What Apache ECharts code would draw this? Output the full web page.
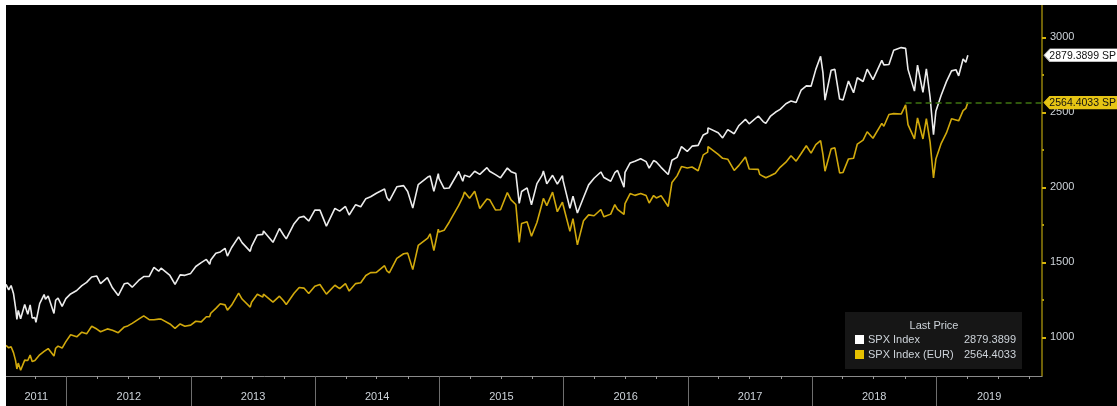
<!DOCTYPE html>
<html><head><meta charset="utf-8">
<script src="https://cdn.jsdelivr.net/npm/echarts@6/dist/echarts.min.js"></script>
<style>
html,body{margin:0;padding:0;background:#fff;width:1117px;height:406px;overflow:hidden}
#c{position:absolute;left:6px;top:5px;width:1111px;height:401px;background:#000}
</style>
</head><body><div id="c"></div>
<script>
// ---- data ----
const seriesNames = ['SPX Index', 'SPX Index (EUR)'];
const dates = [
 '2011-07-07','2011-07-15','2011-07-22','2011-07-29','2011-08-04','2011-08-08','2011-08-12','2011-08-19','2011-08-31','2011-09-09','2011-09-16','2011-09-22','2011-09-30','2011-10-03','2011-10-14','2011-10-27','2011-10-31','2011-11-08','2011-11-25','2011-11-30','2011-12-07','2011-12-19','2011-12-30',
 '2012-01-13','2012-01-31','2012-02-15','2012-02-29','2012-03-15','2012-03-30','2012-04-02','2012-04-10','2012-04-30','2012-05-15','2012-06-01','2012-06-19','2012-06-29','2012-07-12','2012-07-31','2012-08-15','2012-08-31','2012-09-14','2012-09-28','2012-10-05','2012-10-31','2012-11-15','2012-11-30','2012-12-14','2012-12-31',
 '2013-01-15','2013-01-31','2013-02-15','2013-02-25','2013-02-28','2013-03-15','2013-03-28','2013-04-11','2013-04-18','2013-04-30','2013-05-21','2013-05-31','2013-06-24','2013-06-28','2013-07-15','2013-07-31','2013-08-02','2013-08-30','2013-09-18','2013-09-30','2013-10-08','2013-10-31','2013-11-15','2013-11-29','2013-12-13','2013-12-31',
 '2014-01-15','2014-02-03','2014-02-28','2014-03-14','2014-03-31','2014-04-11','2014-04-30','2014-05-15','2014-05-30','2014-06-13','2014-06-30','2014-07-24','2014-07-31','2014-08-07','2014-08-29','2014-09-18','2014-09-30','2014-10-15','2014-10-31','2014-11-28','2014-12-05','2014-12-16','2014-12-29','2014-12-31',
 '2015-01-15','2015-01-30','2015-02-27','2015-03-11','2015-03-16','2015-03-31','2015-04-15','2015-04-30','2015-05-21','2015-05-29','2015-06-15','2015-06-30','2015-07-20','2015-07-31','2015-08-14','2015-08-24','2015-08-31','2015-09-16','2015-09-29','2015-10-15','2015-10-30','2015-11-03','2015-11-13','2015-11-30','2015-12-14','2015-12-29','2015-12-31',
 '2016-01-20','2016-01-29','2016-02-11','2016-02-29','2016-03-15','2016-03-31','2016-04-20','2016-04-29','2016-05-19','2016-05-31','2016-06-08','2016-06-27','2016-06-30','2016-07-15','2016-07-29','2016-08-15','2016-08-31','2016-09-09','2016-09-22','2016-09-30','2016-10-14','2016-11-04','2016-11-15','2016-11-30','2016-12-13','2016-12-30',
 '2017-01-13','2017-01-31','2017-02-15','2017-02-28','2017-03-01','2017-03-31','2017-04-13','2017-04-28','2017-05-17','2017-05-31','2017-06-19','2017-06-30','2017-07-27','2017-07-31','2017-08-10','2017-08-18','2017-08-31','2017-09-15','2017-09-29','2017-10-16','2017-10-31','2017-11-15','2017-11-30','2017-12-15','2017-12-29',
 '2018-01-12','2018-01-26','2018-02-02','2018-02-08','2018-02-26','2018-03-09','2018-03-23','2018-04-02','2018-04-18','2018-05-03','2018-05-14','2018-05-31','2018-06-12','2018-06-29','2018-07-25','2018-07-31','2018-08-15','2018-08-29','2018-09-20','2018-10-03','2018-10-10','2018-10-29','2018-11-07','2018-11-23','2018-12-03','2018-12-14','2018-12-24','2018-12-31',
 '2019-01-15','2019-01-31','2019-02-15','2019-02-28','2019-03-08','2019-03-21','2019-03-29','2019-04-04'
];
const spx = [
 1353,1316,1345,1292,1200,1119,1179,1123,1219,1154,1216,1129,1131,1099,1225,1285,1253,1276,1159,1247,1261,1206,1258,
 1289,1312,1344,1366,1402,1408,1419,1358,1398,1330,1278,1357,1362,1334,1379,1405,1406,1466,1441,1461,1412,1353,1416,1413,1426,
 1472,1498,1519,1487,1515,1560,1569,1593,1541,1597,1669,1631,1573,1606,1682,1686,1709,1633,1725,1682,1656,1757,1798,1806,1775,1848,
 1848,1741,1859,1841,1872,1815,1884,1870,1924,1937,1960,1988,1931,1910,2003,2011,1972,1862,2018,2068,2075,1973,2091,2059,
 1992,1995,2105,2040,2081,2068,2107,2086,2131,2107,2084,2063,2128,2104,2092,1893,1972,1996,1884,2024,2079,2109,2023,2080,2021,2078,2044,
 1859,1940,1829,1932,2016,2060,2102,2065,2040,2097,2112,2001,2099,2162,2174,2190,2171,2128,2178,2168,2133,2085,2180,2199,2271,2239,
 2274,2279,2349,2364,2396,2363,2329,2384,2357,2412,2453,2423,2475,2470,2438,2426,2472,2500,2519,2557,2575,2565,2648,2676,2674,
 2786,2873,2762,2581,2780,2786,2588,2582,2708,2630,2730,2705,2787,2718,2846,2816,2818,2914,2931,2926,2786,2641,2814,2633,2790,2600,2351,2507,
 2610,2704,2776,2784,2743,2855,2834,2879.3899
];
const spxEur = [
 946,930,937,898,846,789,828,780,848,845,882,838,845,834,883,906,904,925,875,927,941,928,971,
 1017,1003,1034,1023,1074,1055,1065,1037,1056,1047,1031,1069,1076,1093,1121,1143,1118,1117,1121,1121,1089,1060,1089,1074,1081,
 1107,1103,1137,1138,1160,1193,1224,1216,1181,1213,1294,1255,1201,1234,1287,1268,1287,1235,1274,1243,1219,1294,1332,1328,1292,1341,
 1352,1288,1347,1324,1358,1308,1358,1364,1412,1431,1432,1477,1442,1430,1526,1557,1561,1451,1612,1661,1690,1578,1720,1702,
 1713,1767,1879,1934,1969,1927,1973,1859,1922,1917,1849,1850,1965,1916,1885,1632,1759,1770,1673,1765,1890,1926,1878,1968,1837,1901,1882,
 1706,1791,1616,1777,1816,1810,1852,1803,1821,1884,1853,1819,1891,1958,1946,1959,1945,1895,1945,1929,1944,1872,2032,2076,2138,2128,
 2135,2110,2216,2234,2271,2219,2193,2187,2112,2146,2202,2122,2119,2086,2073,2063,2077,2094,2133,2167,2210,2174,2225,2277,2228,
 2284,2311,2217,2107,2256,2263,2096,2099,2189,2194,2288,2314,2370,2327,2426,2407,2485,2491,2488,2549,2418,2323,2462,2322,2458,2301,2062,2188,
 2289,2362,2457,2449,2443,2511,2526,2564.4033
];
const yTickLabels = [1000, 1500, 2000, 2500, 3000];
const yMinorTicks = [1250, 1750, 2250, 2750];
const yearLabels = ['2011','2012','2013','2014','2015','2016','2017','2018','2019'];
const dashStartDate = '2018-10-03';
const axisStart = '2011-07-07';
const axisEnd = '2019-11-08';

// ---- helpers ----
function ts(s){ const p = s.split('-').map(Number); return Date.UTC(p[0], p[1]-1, p[2]); }
const xMin = ts(axisStart), xMax = ts(axisEnd);
const yearStarts = yearLabels.slice(1).map(y => ts(y + '-01-01'));
const quarterTicks = [];
yearLabels.forEach(y => ['04-01','07-01','10-01'].forEach(md => {
  const t = ts(y + '-' + md); if (t > xMin && t < xMax) quarterTicks.push(t);
}));
const bounds = [xMin].concat(yearStarts).concat([xMax]);
const yearLabelPos = yearLabels.map((y, i) => (bounds[i] + bounds[i+1]) / 2);

const lastSpx = spx[spx.length-1], lastEur = spxEur[spxEur.length-1];
const WHITE = '#ececec', YEL = '#d1a90c';
const FONT = 'Liberation Sans';
const TXT = '#cdd3d9';

const tagPath = 'path://M0,6.5 L6,0 L82,0 L82,13 L6,13 Z';
function tag(value, fill, text){
  return {
    coord: [xMax, value], symbol: tagPath, symbolSize: [82, 13], symbolOffset: [43, 0],
    symbolKeepAspect: false,
    itemStyle: { color: fill, borderColor: fill === '#ffffff' ? '#bbbbbb' : fill, borderWidth: 0.5 },
    label: { show: true, position: [6, 7], align: 'left', verticalAlign: 'middle',
      formatter: text, color: '#111', fontSize: 10.5, fontFamily: FONT }
  };
}

const chart = echarts.init(document.getElementById('c'), null, { renderer: 'canvas' });
chart.setOption({
  backgroundColor: '#000',
  animation: false,
  grid: { left: 0, right: 75, top: 0, bottom: 30 },
  xAxis: [
    { type: 'value', min: xMin, max: xMax, position: 'bottom',
      axisLine: { show: true, onZero: false, lineStyle: { color: '#8a8a8a', width: 1 } },
      axisTick: { show: true, customValues: yearStarts, length: 30, lineStyle: { color: '#6e6e6e', width: 1 } },
      axisLabel: { show: true, customValues: yearLabelPos, margin: 15, color: TXT, fontSize: 11, fontFamily: FONT,
        formatter: v => String(new Date(v).getUTCFullYear()) },
      splitLine: { show: false } },
    { type: 'value', min: xMin, max: xMax, position: 'bottom',
      axisLine: { show: false, onZero: false },
      axisTick: { show: true, customValues: quarterTicks, length: 3, lineStyle: { color: '#9a9a9a', width: 1 } },
      axisLabel: { show: false }, splitLine: { show: false } }
  ],
  yAxis: [
    { type: 'value', position: 'right', min: 742, max: 3215,
      axisLine: { show: true, lineStyle: { color: '#93800a', width: 1.5 } },
      axisTick: { show: true, inside: false, customValues: yTickLabels, length: 4, lineStyle: { color: '#d6b40a', width: 2 } },
      axisLabel: { show: true, customValues: yTickLabels, margin: 8, color: TXT, fontSize: 11, fontFamily: FONT,
        formatter: v => String(v) },
      splitLine: { show: false } },
    { type: 'value', position: 'right', min: 742, max: 3215,
      axisLine: { show: false },
      axisTick: { show: true, customValues: yMinorTicks, length: 2, lineStyle: { color: '#b09a0a', width: 2 } },
      axisLabel: { show: false }, splitLine: { show: false } }
  ],
  series: [
    { name: seriesNames[0], type: 'line', xAxisIndex: 0, yAxisIndex: 0, showSymbol: false, symbol: 'none',
      data: dates.map((d, i) => [ts(d), spx[i]]),
      lineStyle: { color: WHITE, width: 1.6 }, z: 3,
      markPoint: { silent: true, data: [ tag(lastSpx, '#ffffff', lastSpx.toFixed(4) + ' SP') ] } },
    { name: seriesNames[1], type: 'line', xAxisIndex: 0, yAxisIndex: 0, showSymbol: false, symbol: 'none',
      data: dates.map((d, i) => [ts(d), spxEur[i]]),
      lineStyle: { color: YEL, width: 1.6 }, z: 2,
      markLine: { silent: true, symbol: 'none', label: { show: false },
        lineStyle: { color: '#3f7411', type: [6, 4], width: 1.6 },
        data: [[ { coord: [ts(dashStartDate), lastEur] }, { coord: [xMax, lastEur] } ]] },
      markPoint: { silent: true, data: [ tag(lastEur, '#e6c414', lastEur.toFixed(4) + ' SP') ] } }
  ],
  graphic: [
    { type: 'group', left: 839, top: 307, children: [
      { type: 'rect', shape: { x: 0, y: 0, width: 177, height: 57 }, style: { fill: '#161616' } },
      { type: 'text', style: { x: 89, y: 14, text: 'Last Price', fill: TXT, font: '11px ' + FONT, textAlign: 'center', textVerticalAlign: 'middle' } },
      { type: 'rect', shape: { x: 10, y: 23, width: 9, height: 9 }, style: { fill: '#ffffff' } },
      { type: 'text', style: { x: 23, y: 28, text: seriesNames[0], fill: TXT, font: '11px ' + FONT, textVerticalAlign: 'middle' } },
      { type: 'text', style: { x: 171, y: 28, text: lastSpx.toFixed(4), fill: TXT, font: '11px ' + FONT, textAlign: 'right', textVerticalAlign: 'middle' } },
      { type: 'rect', shape: { x: 10, y: 38, width: 9, height: 9 }, style: { fill: '#e6c000' } },
      { type: 'text', style: { x: 23, y: 43, text: seriesNames[1], fill: TXT, font: '11px ' + FONT, textVerticalAlign: 'middle' } },
      { type: 'text', style: { x: 171, y: 43, text: lastEur.toFixed(4), fill: TXT, font: '11px ' + FONT, textAlign: 'right', textVerticalAlign: 'middle' } }
    ] }
  ]
});
</script>
</body></html>
